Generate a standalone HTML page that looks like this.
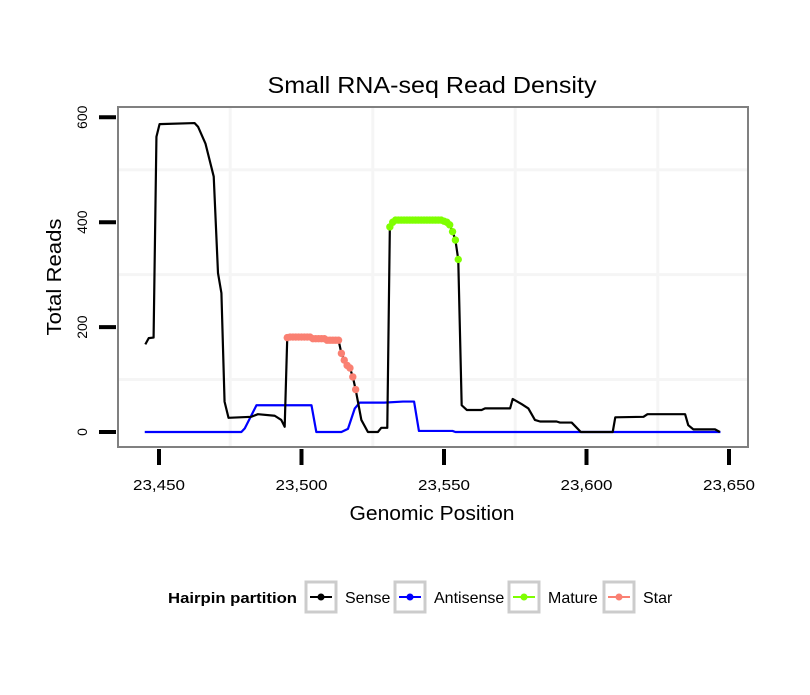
<!DOCTYPE html>
<html><head><meta charset="utf-8"><style>
body{margin:0;background:#fff}
svg text{font-family:"Liberation Sans",sans-serif}
</style></head><body>
<svg id="chart" width="810" height="690" xmlns="http://www.w3.org/2000/svg">
<rect width="810" height="690" fill="#fff"/>
<text x="432" y="93" font-size="23" text-anchor="middle" textLength="329" lengthAdjust="spacingAndGlyphs">Small RNA-seq Read Density</text>
<rect x="118" y="107" width="630" height="340" fill="#fff"/>
<g id="grid"></g>
<g id="series"></g>
<rect x="118" y="107" width="630" height="340" fill="none" stroke="#808080" stroke-width="2"/>
<g id="axes"></g>
<text x="432" y="520" font-size="20" text-anchor="middle" textLength="165" lengthAdjust="spacingAndGlyphs">Genomic Position</text>
<text x="0" y="0" font-size="20" text-anchor="middle" textLength="117" lengthAdjust="spacingAndGlyphs" transform="translate(61,277) rotate(-90)">Total Reads</text>
<g>
<text x="168" y="603" font-size="15" font-weight="bold" textLength="129" lengthAdjust="spacingAndGlyphs">Hairpin partition</text>
<g><rect x="306" y="582" width="30" height="30" fill="#fff" stroke="#ccc" stroke-width="3"/><line x1="310" y1="597" x2="332" y2="597" stroke="#000" stroke-width="2"/><circle cx="321" cy="597" r="3.5" fill="#000"/><text x="345" y="603" font-size="16">Sense</text></g>
<g><rect x="395" y="582" width="30" height="30" fill="#fff" stroke="#ccc" stroke-width="3"/><line x1="399" y1="597" x2="421" y2="597" stroke="#0000ff" stroke-width="2"/><circle cx="410" cy="597" r="3.5" fill="#0000ff"/><text x="434" y="603" font-size="16">Antisense</text></g>
<g><rect x="509" y="582" width="30" height="30" fill="#fff" stroke="#ccc" stroke-width="3"/><line x1="513" y1="597" x2="535" y2="597" stroke="#7fff00" stroke-width="2"/><circle cx="524" cy="597" r="3.5" fill="#7fff00"/><text x="548" y="603" font-size="16">Mature</text></g>
<g><rect x="604" y="582" width="30" height="30" fill="#fff" stroke="#ccc" stroke-width="3"/><line x1="608" y1="597" x2="630" y2="597" stroke="#fa8072" stroke-width="2"/><circle cx="619" cy="597" r="3.5" fill="#fa8072"/><text x="643" y="603" font-size="16">Star</text></g>
</g>
</svg>
<script>
const xTicks=[23450,23500,23550,23600,23650];
const xTickLabels=["23,450","23,500","23,550","23,600","23,650"];
const yTicks=[0,200,400,600];
const yTickLabels=["0","200","400","600"];
const senseX=[23445.2,23446.4,23448.1,23449.1,23450.2,23462.5,23463.7,23466.3,23469.2,23470.7,23471.9,23473.0,23474.4,23482.4,23484.7,23490.6,23492.9,23494.1,23495,23496,23503,23504,23508,23509,23513,23514,23515,23516,23517,23518,23519,23521,23523.3,23526.8,23528,23530.1,23531,23532,23533,23549,23550,23551,23552,23553,23554,23555,23556.2,23558,23563.2,23564.4,23573.2,23574.1,23577.3,23579.6,23581.9,23583.7,23589.5,23590.7,23594.8,23598,23609.2,23610.1,23620,23621.4,23634.6,23635.7,23637.5,23645.1,23646.8];
const senseY=[167,179,180,563,587,589,582,550,487,303,265,58,27,29,34,31,23,10,180,181,181,178,178,175,175,150,137,127,122,105,81,23,0,0,8,8,391,400,404,404,402,400,395,382,366,329,51,42,42,45,45,63,53,45,23,20,20,18,18,0,0,28,29,34,34,13,5,5,0];
const antiX=[23445,23478.9,23480.1,23484.2,23503.5,23505.2,23514,23516.3,23518.7,23520.4,23529.1,23535.6,23539.5,23541.2,23553,23554,23647];
const antiY=[0,0,7,51,51,0,0,6,45,56,56,58,58,2,2,0,0];
const starX=[23495,23496,23497,23498,23499,23500,23501,23502,23503,23504,23505,23506,23507,23508,23509,23510,23511,23512,23513,23514,23515,23516,23517,23518,23519];
const starY=[180,181,181,181,181,181,181,181,181,178,178,178,178,178,175,175,175,175,175,150,137,127,122,105,81];
const matureX=[23531,23532,23533,23534,23535,23536,23537,23538,23539,23540,23541,23542,23543,23544,23545,23546,23547,23548,23549,23550,23551,23552,23553,23554,23555];
const matureY=[391,400,404,404,404,404,404,404,404,404,404,404,404,404,404,404,404,404,404,402,400,395,382,366,329];

const NS="http://www.w3.org/2000/svg";
const xs=v=>159+(v-23450)*2.85;
const ys=v=>432-v*0.5245;
function mk(tag,attrs,parent){const e=document.createElementNS(NS,tag);for(const k in attrs)e.setAttribute(k,attrs[k]);parent.appendChild(e);return e;}
const grid=document.getElementById('grid'),series=document.getElementById('series'),axes=document.getElementById('axes');
[23475,23525,23575,23625].forEach(v=>{const l=mk('line',{x1:xs(v),x2:xs(v),y1:108,y2:446,stroke:'#f5f5f5','stroke-width':3},grid);

});
[100,300,500].forEach(v=>{const l=mk('line',{x1:119,x2:747,y1:ys(v),y2:ys(v),stroke:'#f5f5f5','stroke-width':3},grid);

});
xTicks.forEach((v,i)=>{const t=mk('line',{x1:xs(v),x2:xs(v),y1:449,y2:465,stroke:'#000','stroke-width':4},axes);


const tx=mk('text',{x:xs(v),y:490,'font-size':15,'text-anchor':'middle',textLength:52,lengthAdjust:'spacingAndGlyphs'},axes);tx.textContent=xTickLabels[i];

});
yTicks.forEach((v,i)=>{const t=mk('line',{x1:99,x2:116,y1:ys(v),y2:ys(v),stroke:'#000','stroke-width':4},axes);


const tx=mk('text',{x:0,y:0,'font-size':14,'text-anchor':'middle',transform:`translate(87,${ys(v)}) rotate(-90)`},axes);tx.textContent=yTickLabels[i];

});
function line(X,Y,col,name){const p=mk('polyline',{points:X.map((x,i)=>xs(x)+','+ys(Y[i])).join(' '),fill:'none',stroke:col,'stroke-width':2.2,'stroke-linejoin':'round'},series);

}
line(antiX,antiY,'#0000ff','antisense-line');
line(senseX,senseY,'#000','sense-line');
function pts(X,Y,col,name){X.forEach((x,i)=>{const c=mk('circle',{cx:xs(x),cy:ys(Y[i]),r:3.7,fill:col},series);

});}
pts(starX,starY,'#fa8072','star-point');
pts(matureX,matureY,'#7fff00','mature-point');
</script>
</body></html>
